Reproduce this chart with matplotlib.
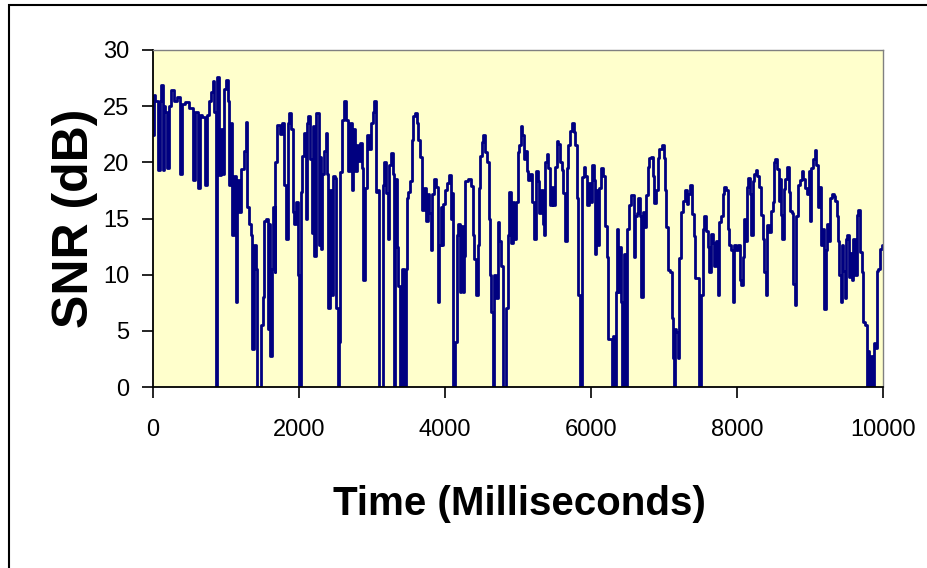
import matplotlib
matplotlib.use('Agg')
import matplotlib.pyplot as plt
from matplotlib.patches import Rectangle

# SNR trace (time in ms, SNR in dB)
time_ms = [
    0, 14, 50, 87, 101, 119, 142, 155, 187, 210, 224, 270, 301, 347, 393, 406,
    461, 530, 575, 589, 635, 653, 690, 726, 744, 781, 804, 827, 849, 872, 895,
    918, 941, 964, 991, 1018, 1037, 1046, 1078, 1100, 1123, 1146, 1169, 1192,
    1228, 1260, 1283, 1306, 1329, 1352, 1365, 1397, 1420, 1443, 1466, 1489,
    1511, 1534, 1557, 1580, 1594, 1612, 1639, 1658, 1671, 1685, 1717, 1749,
    1776, 1808, 1831, 1854, 1868, 1900, 1922, 1945,
    1968, 1991, 2014, 2036, 2059, 2082, 2105, 2119, 2137, 2160, 2187, 2205,
    2219, 2255, 2287, 2301, 2310, 2333, 2356, 2379, 2393, 2411, 2438, 2457,
    2484, 2502, 2516, 2539, 2561, 2575, 2607, 2639, 2662, 2689, 2712, 2731,
    2753, 2776, 2803, 2826, 2849, 2872, 2890, 2913, 2941, 2973, 3004, 3027,
    3041, 3064, 3087, 3110, 3141, 3155, 3178, 3201, 3224, 3247, 3279, 3297,
    3306, 3324, 3352, 3374, 3397, 3429, 3452, 3466, 3484, 3511, 3534, 3552,
    3580, 3598, 3625, 3648, 3680, 3703, 3726, 3749, 3772, 3794, 3817, 3840,
    3872, 3890, 3909, 3931, 3954, 3970, 3985,
    4014, 4046, 4069, 4092, 4105, 4124, 4151, 4169, 4192, 4206, 4229, 4252,
    4265, 4288, 4343, 4366, 4388, 4411, 4434, 4457, 4471, 4489, 4512, 4539,
    4562, 4594, 4608, 4626, 4644, 4663, 4686, 4708, 4731, 4754, 4777, 4800,
    4827, 4845, 4868, 4891, 4914, 4936, 4959, 4982, 5005, 5028, 5042, 5064,
    5087, 5110, 5128, 5156, 5179, 5201, 5233, 5256, 5279, 5302, 5325, 5347,
    5366, 5384, 5402, 5430, 5448, 5471, 5493, 5516, 5539, 5562, 5585, 5612,
    5630, 5658, 5676, 5694, 5722, 5749, 5772, 5790, 5813, 5840, 5872, 5886,
    5909, 5932, 5955,
    5986, 6009, 6032, 6046, 6064, 6082, 6101, 6123, 6155, 6178, 6201, 6228,
    6251, 6274, 6292, 6311, 6329, 6343, 6365, 6384, 6402, 6420, 6443, 6466,
    6489, 6502, 6534, 6557, 6580, 6594, 6612, 6639, 6662, 6685, 6694, 6717,
    6740, 6763, 6785, 6808, 6831, 6854, 6877, 6900, 6922, 6950, 6982, 7005,
    7023, 7041, 7069, 7096, 7114, 7128, 7142, 7160, 7178, 7196, 7219, 7242,
    7270, 7297, 7324, 7347, 7370, 7393, 7416, 7434, 7461, 7493, 7516, 7539,
    7562, 7585, 7608, 7630, 7653, 7676, 7699, 7726, 7744, 7767, 7790, 7813,
    7836, 7859, 7881, 7904, 7927, 7950,
    7972, 8004, 8032, 8050, 8068, 8087, 8109, 8123, 8146, 8169, 8192, 8205,
    8224, 8246, 8269, 8292, 8315, 8338, 8361, 8383, 8406, 8429, 8452, 8475,
    8498, 8511, 8534, 8557, 8580, 8598, 8612, 8626, 8648, 8671, 8694, 8717,
    8735, 8763, 8781, 8804, 8826, 8849, 8872, 8899, 8922, 8945, 8968, 8991,
    9005, 9027, 9055, 9077, 9100, 9119, 9137, 9160, 9183, 9205, 9228, 9242,
    9265, 9288, 9311, 9333, 9356, 9374, 9397, 9411, 9425, 9447, 9470, 9484,
    9502, 9525, 9539, 9562, 9580, 9603, 9630, 9648, 9676, 9694, 9717, 9744,
    9767, 9785, 9804, 9822, 9845, 9868, 9886, 9904, 9922, 9945, 9968, 9995,
]

snr_db = [
    22.4, 26.0, 25.5, 19.3, 25.5, 26.9, 19.3, 25.0, 24.5, 19.5, 25.0, 26.4,
    25.5, 25.8, 19.0, 25.2, 25.4, 24.8, 18.4, 24.5, 17.7, 24.2, 24.0, 18.0,
    24.2, 25.5, 26.3, 27.2, 24.5, 0, 27.6, 18.9, 23.0, 19.0, 26.5, 27.3, 25.5,
    18.0, 23.5, 13.5, 18.8, 7.6, 18.4, 15.6, 19.4, 21.0, 23.6, 16.0, 14.5,
    13.5, 3.4, 12.6, 10.5, 0, 0, 5.5, 8.0, 14.8, 15.0, 5.2, 14.5, 2.8, 10.5,
    16.0, 10.2, 20.0, 23.3, 22.5, 23.5, 18.0, 13.2, 23.5, 24.4, 23.0, 15.6,
    14.5,
    16.5, 10.0, 0, 17.4, 20.6, 22.6, 15.0, 23.5, 24.1, 20.3, 13.7, 23.2,
    11.7, 24.4, 12.6, 20.5, 12.3, 19.0, 21.0, 22.6, 19.0, 7.0, 17.5, 8.2,
    18.8, 18.6, 7.0, 0, 4.0, 19.1, 23.8, 25.5, 23.8, 19.2, 23.5, 17.5,
    23.0, 19.2, 21.5, 20.1, 21.7, 19.5, 9.5, 17.7, 22.4, 21.2, 23.5, 24.5,
    25.5, 17.4, 17.5, 0, 0, 18.0, 20.0, 17.3, 13.2, 19.8, 20.8, 19.0,
    0, 18.5, 12.5, 9.0, 0, 10.5, 0, 10.5, 16.8, 17.4, 18.3, 22.0,
    24.1, 24.4, 23.5, 22.0, 20.5, 15.8, 17.7, 14.8, 17.2, 15.5, 12.2, 17.2,
    18.5, 17.8, 7.6, 12.6, 16.0, 12.6, 16.3,
    17.5, 18.2, 18.9, 15.0, 17.3, 0, 4.0, 13.5, 14.5, 8.5, 14.3, 8.5,
    11.7, 18.3, 18.5, 17.9, 13.5, 11.4, 8.2, 12.6, 17.7, 20.6, 21.8, 22.4,
    20.9, 20.0, 15.0, 10.0, 6.7, 0, 10.0, 7.9, 14.7, 13.0, 10.8, 0,
    0, 7.0, 13.5, 17.4, 12.8, 16.5, 13.2, 16.5, 20.9, 21.5, 23.2, 22.4,
    20.3, 21.0, 19.2, 18.4, 19.0, 16.5, 13.2, 19.2, 18.3, 15.5, 17.5, 14.5,
    13.5, 20.0, 20.7, 19.5, 16.2, 17.8, 16.2, 19.6, 21.9, 21.6, 20.0, 19.3,
    17.3, 13.0, 19.5, 21.5, 22.8, 23.5, 22.7, 21.5, 16.8, 8.2, 0, 18.7,
    19.6, 18.8, 16.2,
    18.2, 16.5, 19.8, 18.4, 11.8, 17.5, 12.6, 17.7, 19.5, 18.8, 14.3, 11.6,
    4.3, 4.3, 0, 4.5, 0, 8.5, 14.1, 8.5, 12.5, 7.6, 0, 11.8,
    0, 14.1, 16.2, 17.1, 17.1, 11.6, 15.2, 15.5, 16.8, 15.2, 8.0, 15.6,
    14.2, 17.1, 19.6, 20.4, 20.5, 18.8, 16.4, 17.5, 20.4, 21.2, 21.5, 20.4,
    17.5, 14.2, 10.4, 10.2, 6.1, 2.6, 0, 5.2, 4.9, 2.6, 11.5, 15.6,
    16.6, 17.5, 16.3, 17.2, 18.0, 15.4, 13.4, 9.7, 9.7, 0, 8.2, 14.1,
    15.2, 13.9, 12.5, 10.2, 13.6, 12.8, 10.8, 13.0, 8.2, 14.7, 15.2, 17.2,
    17.8, 17.5, 14.1, 12.6, 12.2, 7.6,
    12.6, 12.2, 12.6, 9.5, 9.1, 11.6, 15.0, 13.0, 17.8, 18.6, 17.2, 13.5,
    18.3, 19.0, 19.3, 18.8, 17.8, 15.3, 13.2, 10.2, 8.2, 14.4, 13.8, 15.7,
    16.5, 20.0, 20.3, 19.4, 16.6, 18.5, 15.3, 13.2, 17.6, 18.5, 19.6, 17.4,
    15.7, 15.5, 9.2, 7.3, 15.2, 18.0, 18.4, 19.2, 18.5, 17.7, 17.2, 19.2,
    14.8, 19.5, 20.3, 21.1, 19.8, 16.0, 17.8, 12.6, 14.1, 6.9, 12.2, 14.5,
    13.0, 16.8, 17.2, 17.0, 16.6, 15.2, 13.0, 10.0, 7.6, 12.6, 10.3, 7.9,
    13.2, 13.5, 9.8, 11.9, 9.5, 13.2, 10.0, 15.3, 15.8, 12.0, 10.2, 5.8,
    5.5, 0, 3.2, 0, 2.8, 0, 3.9, 3.5, 10.3, 10.5, 12.3, 12.6,
]

x_ticks = [0, 2000, 4000, 6000, 8000, 10000]
y_ticks = [0, 5, 10, 15, 20, 25, 30]

plt.rcParams['font.family'] = ['Liberation Sans', 'DejaVu Sans']

fig = plt.figure(figsize=(9.28, 5.68), dpi=100)
fig.patch.set_facecolor('white')

# outer frame of the chart (right and bottom edges fall outside the picture)
fig.patches.append(Rectangle((9 / 928, -0.2), 1.2, 1.2 - 5 / 568,
                             transform=fig.transFigure, fill=False,
                             edgecolor='black', linewidth=1.5))

ax = fig.add_axes([153 / 928, 1 - 387 / 568, 730 / 928, 337 / 568])
ax.set_facecolor('#FFFFCC')

ax.plot(time_ms, snr_db, color='#000080', linewidth=2.0, drawstyle='steps-mid')

ax.set_xlim(0, 10000)
ax.set_ylim(0, 30)
ax.set_xticks(x_ticks)
ax.set_yticks(y_ticks)
ax.tick_params(axis='x', direction='out', length=8, width=1.2, pad=15, labelsize=17)
ax.tick_params(axis='y', direction='out', length=8, width=1.2, pad=9, labelsize=17)

for side in ['left', 'bottom']:
    ax.spines[side].set_color('black')
    ax.spines[side].set_linewidth(1.3)
for side in ['top', 'right']:
    ax.spines[side].set_color('#808080')
    ax.spines[side].set_linewidth(1.0)

fig.text(519 / 928, 1 - 515 / 568, 'Time (Milliseconds)', ha='center', va='baseline',
         fontsize=29, fontweight='bold')
fig.text(75 / 928, 1 - 218 / 568, 'SNR (dB)', ha='center', va='center', rotation=90,
         fontsize=36, fontweight='bold')

fig.savefig('out.png', dpi=100)
